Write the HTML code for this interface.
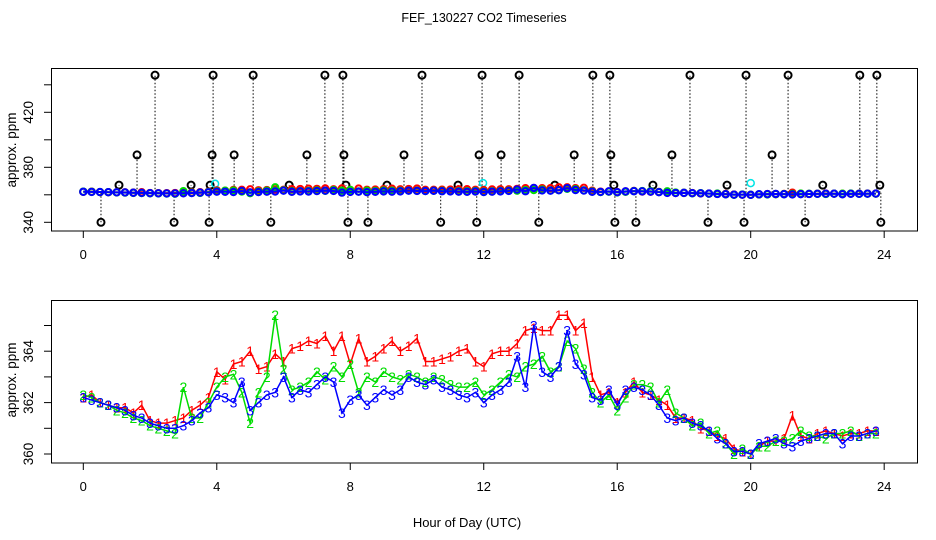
<!DOCTYPE html>
<html><head><meta charset="utf-8"><style>
body{margin:0;background:#fff}
svg{display:block;font-family:"Liberation Sans",sans-serif}
</style></head><body>
<svg id="c" width="936" height="540" viewBox="0 0 936 540"></svg>
<script>
const hours=[];for(let i=0;i<96;i++)hours.push(i*0.25);
const blueVals=[362.2,362.1,362.0,361.9,361.8,361.7,361.5,361.4,361.2,361.1,361.0,361.0,361.1,361.3,361.6,361.8,362.3,362.2,362.0,362.8,361.7,362.0,362.3,362.4,363.0,362.2,362.5,362.4,362.7,363.0,362.8,361.6,362.1,362.3,361.9,362.2,362.5,362.3,362.5,363.0,362.8,362.7,362.9,362.6,362.5,362.3,362.2,362.4,362.0,362.3,362.5,362.8,363.8,362.6,365.0,363.2,363.0,363.4,364.8,363.5,363.1,362.2,362.1,362.5,361.9,362.5,362.6,362.5,362.3,361.9,361.4,361.3,361.4,361.2,361.1,360.9,360.6,360.4,360.1,360.1,360.0,360.4,360.5,360.6,360.4,360.3,360.5,360.6,360.7,360.8,360.8,360.4,360.7,360.7,360.8,360.9];
const greenVals=[362.3,362.2,362.0,361.9,361.7,361.6,361.4,361.3,361.1,361.0,360.9,360.8,362.6,361.4,361.4,362.0,362.6,363.0,363.1,362.4,361.2,362.4,363.0,365.4,363.3,362.5,362.6,362.8,363.2,362.9,363.4,363.0,363.5,362.4,363.0,362.8,363.2,363.0,362.9,363.1,363.0,362.8,363.0,362.9,362.7,362.6,362.6,362.8,362.3,362.5,362.8,363.1,363.0,363.4,363.5,363.8,363.2,363.4,364.4,364.1,363.3,362.4,362.0,362.3,361.7,362.2,362.7,362.7,362.6,362.0,362.5,361.6,361.4,361.1,361.2,360.8,360.9,360.4,360.0,360.2,360.0,360.3,360.3,360.5,360.5,360.6,360.9,360.7,360.7,360.6,360.8,360.8,360.9,360.7,360.8,360.8];
const redVals=[362.2,362.3,362.0,361.9,361.8,361.8,361.6,361.9,361.3,361.2,361.2,361.3,361.4,361.7,361.9,362.2,363.2,362.9,363.5,363.6,364.0,363.3,363.4,363.9,363.6,364.1,364.2,364.4,364.3,364.6,364.0,364.6,363.5,364.5,363.6,363.8,364.1,364.4,364.0,364.2,364.5,363.6,363.6,363.7,363.8,364.0,364.1,363.6,363.4,363.9,364.0,364.0,364.3,364.8,364.9,364.8,364.8,365.4,365.4,364.8,365.1,363.0,362.3,362.4,362.0,362.4,362.8,362.4,362.3,362.1,361.9,361.4,361.4,361.3,361.0,360.9,360.7,360.6,360.2,360.1,360.0,360.3,360.5,360.5,360.6,361.5,360.7,360.6,360.8,360.9,360.8,360.7,360.8,360.8,360.9,360.9];
const outlierHours=[2.15,3.89,5.09,7.24,7.78,10.15,11.95,13.06,15.27,15.78,18.18,19.86,21.12,23.27,23.78,1.61,3.86,4.52,6.70,7.81,9.61,11.86,12.52,14.71,15.81,17.64,20.64,1.07,3.23,3.80,6.17,7.87,9.10,11.23,14.13,15.90,17.07,19.29,22.16,23.87,0.53,2.72,3.77,5.62,7.93,8.53,10.71,11.79,13.65,15.93,16.56,18.72,19.80,21.63,23.90];
const outlierVals=[447,447,447,447,447,447,447,447,447,447,447,447,447,447,447,389,389,389,389,389,389,389,389,389,389,389,389,367,367,367,367,367,367,367,367,367,367,367,367,367,340,340,340,340,340,340,340,340,340,340,340,340,340,340,340];
const cyanHours=[3.95,11.98,20.0];
const cyanVals=[368,368.5,368.5];
const xTicks=[0,4,8,12,16,20,24];
const topYTicks=[340,360,380,400,420,440];
const topYLabels=[340,380,420];
const botYTicks=[360,361,362,363,364,365];
const botYLabels=[360,362,364];

const S=document.getElementById('c');const NS='http://www.w3.org/2000/svg';
function el(t,a,p){const e=document.createElementNS(NS,t);for(const k in a)e.setAttribute(k,a[k]);(p||S).appendChild(e);return e;}
const X=h=>83.3+h*33.37;
const YT=v=>222.3-(v-340)*1.375;
const YB=v=>454-(v-360)*25.7;

let t=el('text',{x:484,y:22,'text-anchor':'middle','font-size':12.5});t.textContent='FEF_130227  CO2 Timeseries';


t=el('text',{x:467,y:527,'text-anchor':'middle','font-size':13});t.textContent='Hour of Day (UTC)';



function panel(name,top,bot,Y,yTicks,yLabels,labelCy){
  const g=el('g',{});
  
  
  const r=el('rect',{x:51.5,y:top,width:866,height:bot-top,fill:'none',stroke:'#000'},g);
  
  
  xTicks.forEach(h=>{
    el('line',{x1:X(h),x2:X(h),y1:bot,y2:bot+7,stroke:'#000'},g);
    const l=el('text',{x:X(h),y:bot+28,'text-anchor':'middle','font-size':13},g);l.textContent=h;
    
    
  });
  yTicks.forEach(v=>{el('line',{x1:44,x2:51.5,y1:Y(v),y2:Y(v),stroke:'#000'},g);});
  yLabels.forEach(v=>{
    const l=el('text',{x:0,y:0,transform:`translate(33,${Y(v)}) rotate(-90)`,'text-anchor':'middle','font-size':13.5},g);l.textContent=v;
    
    
  });
  const yl=el('text',{x:0,y:0,transform:`translate(16,${labelCy}) rotate(-90)`,'text-anchor':'middle','font-size':13.5},g);yl.textContent='approx. ppm';
  
  
  return g;
}
panel('top-panel',68.5,231,YT,topYTicks,topYLabels,150);
panel('bottom-panel',300.5,463,YB,botYTicks,botYLabels,380);

const series=[['red',redVals,'#ff0000','1'],['green',greenVals,'#00dd00','2'],['blue',blueVals,'#0000ff','3']];
outlierHours.forEach((h,i)=>{
  el('line',{x1:X(h),x2:X(h),y1:YT(361.5),y2:YT(outlierVals[i]),stroke:'#000','stroke-dasharray':'1.5,2'});
  const c=el('circle',{cx:X(h),cy:YT(outlierVals[i]),r:3.5,fill:'none',stroke:'#000','stroke-width':2});
  
  
});
cyanHours.forEach((h,i)=>{
  const c=el('circle',{cx:X(h),cy:YT(cyanVals[i]),r:3.5,fill:'none',stroke:'#00e5e5','stroke-width':1.5});
  
  
});
series.forEach(([n,vals,col])=>{
  const pts=vals.map((v,i)=>X(hours[i])+','+YT(v)).join(' ');
  const pl=el('polyline',{points:pts,fill:'none',stroke:col,'stroke-width':2});
  
  
  vals.forEach((v,i)=>{
    const c=el('circle',{cx:X(hours[i]),cy:YT(v),r:3.2,fill:'none',stroke:col,'stroke-width':2});
    
    
  });
});
series.forEach(([n,vals,col,ch])=>{
  const pts=vals.map((v,i)=>X(hours[i])+','+YB(v)).join(' ');
  const pl=el('polyline',{points:pts,fill:'none',stroke:col,'stroke-width':1.5});
  
  
  vals.forEach((v,i)=>{
    const tx=el('text',{x:X(hours[i]),y:YB(v)+5,'text-anchor':'middle','font-size':14,fill:col});tx.textContent=ch;
    
    
  });
});
</script>
</body></html>
